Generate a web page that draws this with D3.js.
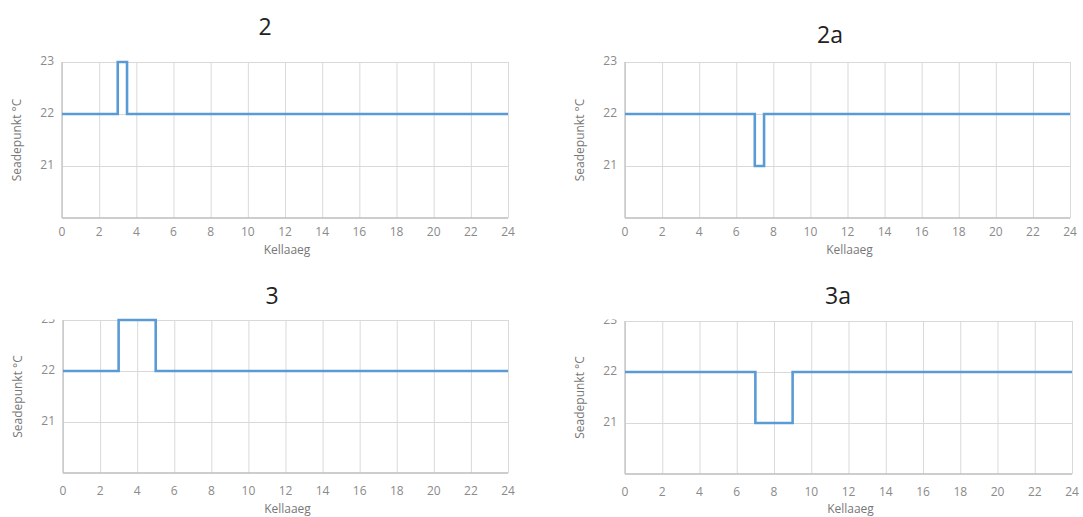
<!DOCTYPE html>
<html>
<head>
<meta charset="utf-8">
<script src="https://cdn.jsdelivr.net/npm/d3@7"></script>
<style>
  body { margin: 0; background: #fff; }
  svg { display: block; font-family: "Open Sans", "Noto Sans", sans-serif; }
  .grid line { stroke: #d9d9d9; stroke-width: 1; }
  .grid path { display: none; }
  .tick-label { fill: #8a8a8a; font-size: 12px; }
  .axis-title { fill: #777; font-size: 12px; }
  .chart-title { fill: #222; font-size: 23px; }
</style>
</head>
<body>
<svg id="chart" width="1083" height="517"></svg>
<script>
// Seadepunkt (setpoint) schedules, hour -> °C, step after
const hours2 = [0, 3, 3.5, 24];
const setp2 = [22, 23, 22, 22];
const hours2a = [0, 7, 7.5, 24];
const setp2a = [22, 21, 22, 22];
const hours3 = [0, 3, 5, 24];
const setp3 = [22, 23, 22, 22];
const hours3a = [0, 7, 9, 24];
const setp3a = [22, 21, 22, 22];

const titles = ["2", "2a", "3", "3a"];
const xTicks = [0, 2, 4, 6, 8, 10, 12, 14, 16, 18, 20, 22, 24];
const yTicks = [21, 22, 23];
const xTitle = "Kellaaeg";
const yTitle = "Seadepunkt °C";

// panel layout (pixels)
const panels = [
    { title: titles[0], hours: hours2, vals: setp2, x0: 62, x1: 508, yTop: 62, yBot: 218, titleX: 265, titleY: 35, tickDy: 15, xtY: 258, clipTop: null },
    { title: titles[1], hours: hours2a, vals: setp2a, x0: 625, x1: 1070, yTop: 62, yBot: 218, titleX: 830, titleY: 43, tickDy: 15, xtY: 258, clipTop: null },
    { title: titles[2], hours: hours3, vals: setp3, x0: 63, x1: 508, yTop: 320, yBot: 473, titleX: 272, titleY: 304, tickDy: 19, xtY: 517, clipTop: 319.5 },
    { title: titles[3], hours: hours3a, vals: setp3a, x0: 625, x1: 1072, yTop: 321, yBot: 474, titleX: 838, titleY: 304, tickDy: 19, xtY: 517, clipTop: 319.5 }
];

const svg = d3.select("#chart");
const defs = svg.append("defs");

panels.forEach((p, i) => {
    const x = d3.scaleLinear().domain([0, 24]).range([p.x0, p.x1]);
    const y = d3.scaleLinear().domain([20, 23]).range([p.yBot, p.yTop]);
    const g = svg.append("g").attr("class", "panel");

    // vertical gridlines
    g.append("g")
        .attr("class", "grid")
        .attr("transform", `translate(0,${p.yBot})`)
        .call(d3.axisBottom(x).tickValues(xTicks).tickSize(-(p.yBot - p.yTop)).tickFormat(""));

    // horizontal gridlines
    g.append("g")
        .attr("class", "grid")
        .attr("transform", `translate(${p.x0},0)`)
        .call(d3.axisLeft(y).tickValues(yTicks).tickSize(-(p.x1 - p.x0)).tickFormat(""));

    // axis lines
    g.append("line")
        .attr("x1", p.x0).attr("x2", p.x1)
        .attr("y1", p.yBot).attr("y2", p.yBot)
        .attr("stroke", "#bdbdbd").attr("stroke-width", 1.5);
    g.append("line")
        .attr("x1", p.x0).attr("x2", p.x0)
        .attr("y1", p.yTop).attr("y2", p.yBot)
        .attr("stroke", "#c8c8c8").attr("stroke-width", 1.5);

    // x tick labels
    g.selectAll(".xlab")
        .data(xTicks)
        .join("text")
        .attr("class", "tick-label")
        .attr("x", d => x(d))
        .attr("y", p.yBot + p.tickDy)
        .attr("text-anchor", "middle")
        .attr("dominant-baseline", "middle")
        .text(d => d);

    // y tick labels (bottom panels are cut at the top)
    let yLabs = g.append("g");
    if (p.clipTop !== null) {
        defs.append("clipPath").attr("id", "clip" + i)
            .append("rect")
            .attr("x", p.x0 - 40).attr("y", p.clipTop)
            .attr("width", 40).attr("height", p.yBot - p.clipTop + 20);
        yLabs.attr("clip-path", `url(#clip${i})`);
    }
    yLabs.selectAll("text")
        .data(yTicks)
        .join("text")
        .attr("class", "tick-label")
        .attr("x", p.x0 - 8)
        .attr("y", d => y(d))
        .attr("text-anchor", "end")
        .attr("dominant-baseline", "middle")
        .text(d => d);

    // axis titles
    g.append("text")
        .attr("class", "axis-title")
        .attr("x", (p.x0 + p.x1) / 2 + 2)
        .attr("y", p.xtY - 4)
        .attr("text-anchor", "middle")
        .text(xTitle);
    g.append("text")
        .attr("class", "axis-title")
        .attr("transform", `translate(${p.x0 - 44},${(p.yTop + p.yBot) / 2}) rotate(-90)`)
        .attr("text-anchor", "middle")
        .attr("dominant-baseline", "middle")
        .text(yTitle);

    // chart title
    g.append("text")
        .attr("class", "chart-title")
        .attr("x", p.titleX)
        .attr("y", p.titleY)
        .attr("text-anchor", "middle")
        .text(p.title);

    // setpoint step line
    const pts = p.hours.map((h, k) => [h, p.vals[k]]);
    const line = d3.line()
        .x(d => x(d[0]))
        .y(d => y(d[1]))
        .curve(d3.curveStepAfter);
    g.append("path")
        .datum(pts)
        .attr("fill", "none")
        .attr("stroke", "#5b9bd5")
        .attr("stroke-width", 2.6)
        .attr("d", line);
});
</script>
</body>
</html>
